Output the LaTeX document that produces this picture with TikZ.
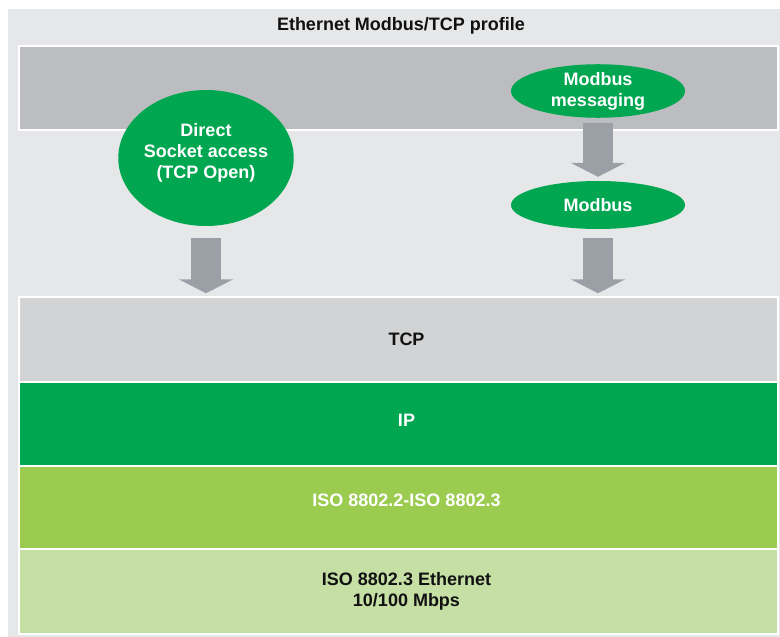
\documentclass[tikz,border=0pt]{standalone}
\usepackage{fontspec}
\setmainfont{Liberation Sans}
\usetikzlibrary{arrows.meta,shapes.geometric}
\definecolor{pagegray}{HTML}{E6E7E8}
\definecolor{bandgray}{HTML}{BCBDC0}
\definecolor{tcpgray}{HTML}{D1D3D4}
\definecolor{sgreen}{HTML}{00A650}
\definecolor{lime}{HTML}{9BCB4F}
\definecolor{limetint}{HTML}{C5DFA5}
\definecolor{arrgray}{HTML}{9BA0A6}
\definecolor{ink}{HTML}{111111}
\newcommand{\lbl}{\fontsize{18pt}{21pt}\selectfont\bfseries}
\tikzset{
  layer/.style={draw=white, line width=1.5pt, rectangle, minimum width=759pt,
    minimum height=84pt, inner sep=0pt},
  ltext/.style={align=center, font=\lbl, text=ink, inner sep=0pt},
  proto/.style={ellipse, fill=sgreen, draw=none, inner sep=0pt, minimum width=174pt,
    align=center, font=\lbl, text=white},
  blk/.style={-{Triangle[length=14pt,width=54pt]}, line width=30pt, color=arrgray},
}

\begin{document}
\begin{tikzpicture}[x=1pt,y=-1pt]
    \useasboundingbox (0,0) rectangle (780,637);
    \fill[pagegray] (8,9) rectangle (780,637);
    \node[ltext] (title) at (401,26) {Ethernet Modbus/TCP profile};
    \node[layer, fill=bandgray, minimum height=84pt] (band) at (398.5,88) {};
    % protocol stack
    \node[layer, fill=tcpgray, minimum height=85pt] (tcp) at (398.5,339.5) {};
    \node[layer, fill=sgreen] (ip) at (398.5,424) {};
    \node[layer, fill=lime, minimum height=83pt] (llc) at (398.5,507.5) {};
    \node[layer, fill=limetint, minimum height=85pt] (eth) at (398.5,591.5) {};
    \node[ltext] (tcptxt) at ([shift={(8,0)}]tcp) {TCP};
    \node[ltext, text=white] (iptxt) at ([shift={(8,-4)}]ip) {IP};
    \node[ltext, text=white] (llctxt) at ([shift={(8,-7)}]llc) {ISO 8802.2-ISO 8802.3};
    \node[ltext] (ethtxt) at ([shift={(8,0)}]eth) {ISO 8802.3 Ethernet\\10/100 Mbps};
    % upper layers
    \node[proto, minimum height=136pt, text depth=14pt] (direct) at (206,158) {Direct\\Socket access\\(TCP Open)};
    \node[proto, minimum height=52pt] (msg) at (598,91) {Modbus\\messaging};
    \node[proto, minimum height=48pt] (modbus) at (598,205) {Modbus};
    \draw[blk, shorten <=12pt, shorten >=3pt] (direct) -- (direct |- tcp.north);
    \draw[blk, shorten <=5pt, shorten >=4pt] (msg) -- (modbus);
    \draw[blk, shorten <=9pt, shorten >=3pt] (modbus) -- (modbus |- tcp.north);
  \end{tikzpicture}
\end{document}
